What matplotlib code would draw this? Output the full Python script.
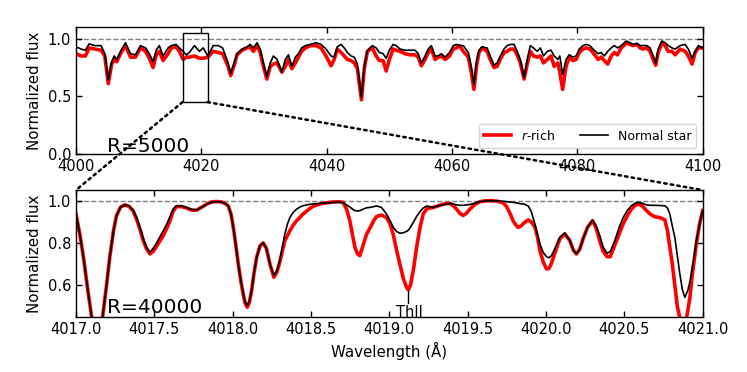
import matplotlib
matplotlib.use("Agg")
import matplotlib.pyplot as plt
from matplotlib.patches import Rectangle, ConnectionPatch

# ---------------- low resolution (R=5000) spectrum, 4000-4100 A ----------------
wl_lo = [4000.0, 4000.8, 4001.5, 4002.1, 4003.0, 4004.0, 4004.6, 4005.15, 4005.7, 4006.1,
         4006.5, 4007.2, 4007.9, 4008.7, 4009.5, 4010.3, 4011.1, 4011.7, 4012.3, 4012.8,
         4013.3, 4013.9, 4014.7, 4015.2, 4016.0, 4016.5, 4017.1, 4017.6, 4018.1, 4018.9,
         4019.7, 4020.3, 4021.05, 4021.9, 4022.7, 4023.4, 4024.2, 4024.7, 4025.3, 4025.7,
         4026.5, 4027.3, 4027.8, 4028.3, 4028.9, 4029.4, 4029.9, 4030.45, 4031.0, 4031.5,
         4032.1, 4032.85, 4033.4, 4033.9, 4034.45, 4035.0, 4035.5, 4036.0, 4036.6, 4037.4,
         4038.3, 4039.1, 4039.9, 4040.7, 4041.2, 4041.7, 4042.3, 4042.8, 4043.3, 4043.9,
         4044.4, 4044.9, 4045.55, 4046.0, 4046.5, 4047.3, 4047.9, 4048.4, 4049.0, 4049.5,
         4050.0, 4050.6, 4051.1, 4051.7, 4052.5, 4053.3, 4054.1, 4054.6, 4055.1, 4055.7,
         4056.2, 4056.7, 4057.3, 4057.8, 4058.3, 4058.9, 4059.6, 4060.2, 4060.7, 4061.2,
         4061.8, 4062.6, 4063.1, 4063.5, 4063.9, 4064.3, 4064.8, 4065.6, 4066.1, 4066.7,
         4067.2, 4067.7, 4068.3, 4068.8, 4069.3, 4069.9, 4070.4, 4070.9, 4071.5, 4072.0,
         4072.5, 4073.0, 4073.6, 4074.1, 4074.6, 4075.2, 4075.8, 4076.3, 4076.9, 4077.2,
         4077.65, 4078.2, 4078.7, 4079.3, 4079.8, 4080.3, 4080.9, 4081.4, 4082.0, 4082.5,
         4083.3, 4083.8, 4084.3, 4084.85, 4085.4, 4085.9, 4086.4, 4087.0, 4087.8, 4088.4,
         4088.9, 4089.5, 4090.0, 4090.5, 4091.1, 4091.6, 4092.1, 4092.5, 4092.9, 4093.5,
         4094.0, 4094.5, 4095.1, 4095.6, 4096.4, 4097.2, 4097.7, 4098.3, 4098.8, 4099.3,
         4100.0]
flux_lo_normal = [0.93, 0.91, 0.90, 0.955, 0.94, 0.94, 0.87, 0.64, 0.80, 0.85,
                  0.82, 0.90, 0.965, 0.87, 0.86, 0.94, 0.92, 0.87, 0.80, 0.90,
                  0.94, 0.85, 0.92, 0.94, 0.95, 0.92, 0.89, 0.86, 0.88, 0.94,
                  0.89, 0.92, 0.85, 0.94, 0.94, 0.92, 0.80, 0.70, 0.80, 0.87,
                  0.91, 0.93, 0.95, 0.92, 0.965, 0.91, 0.79, 0.67, 0.79, 0.85,
                  0.82, 0.71, 0.82, 0.86, 0.76, 0.84, 0.87, 0.92, 0.94, 0.95,
                  0.965, 0.95, 0.91, 0.85, 0.84, 0.93, 0.95, 0.92, 0.88, 0.85,
                  0.84, 0.78, 0.49, 0.76, 0.90, 0.94, 0.92, 0.88, 0.87, 0.83,
                  0.90, 0.95, 0.94, 0.91, 0.90, 0.90, 0.90, 0.87, 0.79, 0.85,
                  0.91, 0.94, 0.85, 0.85, 0.87, 0.84, 0.88, 0.94, 0.95, 0.94,
                  0.94, 0.88, 0.75, 0.60, 0.80, 0.90, 0.93, 0.92, 0.85, 0.77,
                  0.79, 0.85, 0.91, 0.94, 0.95, 0.95, 0.89, 0.82, 0.66, 0.82,
                  0.94, 0.92, 0.89, 0.92, 0.85, 0.89, 0.90, 0.85, 0.82, 0.85,
                  0.69, 0.82, 0.86, 0.84, 0.85, 0.91, 0.94, 0.95, 0.94, 0.91,
                  0.87, 0.88, 0.85, 0.89, 0.92, 0.94, 0.92, 0.94, 0.98, 0.965,
                  0.95, 0.96, 0.94, 0.94, 0.94, 0.92, 0.85, 0.79, 0.91, 0.98,
                  0.965, 0.94, 0.92, 0.91, 0.94, 0.95, 0.91, 0.83, 0.89, 0.94,
                  0.92]
flux_lo_rrich = [0.87, 0.85, 0.85, 0.92, 0.91, 0.90, 0.85, 0.61, 0.78, 0.82,
                 0.80, 0.88, 0.94, 0.84, 0.84, 0.92, 0.89, 0.83, 0.75, 0.86,
                 0.89, 0.81, 0.87, 0.92, 0.93, 0.89, 0.82, 0.84, 0.84, 0.85,
                 0.83, 0.83, 0.84, 0.89, 0.88, 0.87, 0.77, 0.68, 0.78, 0.86,
                 0.90, 0.92, 0.93, 0.89, 0.94, 0.88, 0.76, 0.65, 0.76, 0.78,
                 0.79, 0.71, 0.76, 0.82, 0.74, 0.79, 0.84, 0.89, 0.92, 0.94,
                 0.94, 0.92, 0.85, 0.765, 0.82, 0.91, 0.88, 0.85, 0.82, 0.81,
                 0.79, 0.74, 0.47, 0.74, 0.89, 0.92, 0.85, 0.81, 0.81, 0.72,
                 0.82, 0.91, 0.90, 0.89, 0.87, 0.86, 0.86, 0.84, 0.765, 0.82,
                 0.88, 0.91, 0.82, 0.84, 0.85, 0.82, 0.85, 0.91, 0.92, 0.94,
                 0.89, 0.84, 0.70, 0.56, 0.76, 0.88, 0.92, 0.89, 0.82, 0.75,
                 0.76, 0.82, 0.88, 0.89, 0.91, 0.91, 0.86, 0.79, 0.65, 0.78,
                 0.89, 0.85, 0.84, 0.85, 0.79, 0.82, 0.85, 0.76, 0.79, 0.71,
                 0.56, 0.76, 0.84, 0.81, 0.82, 0.88, 0.91, 0.92, 0.91, 0.88,
                 0.82, 0.84, 0.81, 0.78, 0.85, 0.88, 0.86, 0.92, 0.96, 0.95,
                 0.94, 0.95, 0.92, 0.91, 0.92, 0.89, 0.82, 0.77, 0.88, 0.965,
                 0.94, 0.89, 0.89, 0.86, 0.91, 0.89, 0.85, 0.78, 0.88, 0.92,
                 0.92]

# ---------------- high resolution (R=40000) spectrum, 4017-4021 A ----------------
wl_hi = [4017.000, 4017.025, 4017.050, 4017.075, 4017.100, 4017.135, 4017.170, 4017.195, 4017.217, 4017.240,
         4017.259, 4017.285, 4017.313, 4017.340, 4017.366, 4017.390, 4017.408, 4017.430, 4017.451, 4017.472,
         4017.493, 4017.515, 4017.536, 4017.557, 4017.580, 4017.600, 4017.620, 4017.642, 4017.675, 4017.706,
         4017.740, 4017.770, 4017.800, 4017.834, 4017.865, 4017.897, 4017.930, 4017.955, 4017.972, 4017.990,
         4018.004, 4018.020, 4018.036, 4018.052, 4018.068, 4018.080, 4018.093, 4018.107, 4018.121, 4018.137,
         4018.153, 4018.175, 4018.195, 4018.215, 4018.238, 4018.263, 4018.282, 4018.301, 4018.317, 4018.333,
         4018.350, 4018.365, 4018.387, 4018.408, 4018.430, 4018.450, 4018.480, 4018.503, 4018.530, 4018.557,
         4018.600, 4018.642, 4018.675, 4018.705, 4018.727, 4018.748, 4018.765, 4018.780, 4018.796, 4018.812,
         4018.833, 4018.854, 4018.876, 4018.900, 4018.919, 4018.950, 4018.982, 4019.005, 4019.025, 4019.045,
         4019.067, 4019.090, 4019.110, 4019.121, 4019.135, 4019.155, 4019.174, 4019.195, 4019.216, 4019.240,
         4019.280, 4019.310, 4019.344, 4019.386, 4019.410, 4019.429, 4019.450, 4019.471, 4019.492, 4019.514,
         4019.545, 4019.578, 4019.610, 4019.642, 4019.685, 4019.727, 4019.750, 4019.770, 4019.790, 4019.807,
         4019.822, 4019.840, 4019.860, 4019.886, 4019.905, 4019.929, 4019.945, 4019.961, 4019.982, 4020.003,
         4020.020, 4020.035, 4020.060, 4020.088, 4020.120, 4020.152, 4020.175, 4020.194, 4020.215, 4020.237,
         4020.265, 4020.297, 4020.320, 4020.343, 4020.365, 4020.390, 4020.410, 4020.439, 4020.465, 4020.492,
         4020.520, 4020.545, 4020.568, 4020.588, 4020.615, 4020.641, 4020.668, 4020.694, 4020.725, 4020.758,
         4020.775, 4020.790, 4020.806, 4020.822, 4020.838, 4020.854, 4020.870, 4020.886, 4020.905, 4020.918,
         4020.935, 4020.948, 4020.960, 4020.980, 4021.000]
flux_hi_normal = [0.937, 0.84, 0.72, 0.58, 0.45, 0.38, 0.45, 0.60, 0.74, 0.86,
                  0.93, 0.97, 0.98, 0.975, 0.955, 0.915, 0.874, 0.82, 0.78, 0.756,
                  0.775, 0.80, 0.83, 0.858, 0.89, 0.925, 0.96, 0.976, 0.975, 0.968,
                  0.958, 0.956, 0.968, 0.982, 0.992, 0.995, 0.994, 0.985, 0.975, 0.935,
                  0.874, 0.79, 0.70, 0.625, 0.56, 0.52, 0.504, 0.525, 0.575, 0.66,
                  0.732, 0.787, 0.80, 0.775, 0.70, 0.646, 0.67, 0.717, 0.78, 0.843,
                  0.89, 0.92, 0.945, 0.96, 0.97, 0.976, 0.981, 0.984, 0.986, 0.987,
                  0.99, 0.992, 0.993, 0.99, 0.98, 0.97, 0.96, 0.953, 0.951, 0.953,
                  0.96, 0.966, 0.968, 0.972, 0.975, 0.968, 0.937, 0.905, 0.874, 0.855,
                  0.846, 0.848, 0.855, 0.86, 0.875, 0.90, 0.925, 0.948, 0.965, 0.975,
                  0.968, 0.975, 0.98, 0.987, 0.984, 0.98, 0.978, 0.978, 0.98, 0.982,
                  0.988, 0.995, 0.998, 1.0, 0.999, 0.997, 0.995, 0.994, 0.992, 0.99,
                  0.988, 0.985, 0.984, 0.975, 0.95, 0.89, 0.84, 0.795, 0.755, 0.735,
                  0.73, 0.74, 0.78, 0.827, 0.847, 0.811, 0.765, 0.748, 0.77, 0.82,
                  0.874, 0.909, 0.88, 0.835, 0.78, 0.751, 0.76, 0.811, 0.87, 0.92,
                  0.955, 0.976, 0.988, 0.992, 0.988, 0.98, 0.978, 0.978, 0.977, 0.976,
                  0.965, 0.937, 0.88, 0.827, 0.74, 0.654, 0.58, 0.543, 0.575, 0.615,
                  0.69, 0.75, 0.811, 0.89, 0.953]
flux_hi_rrich = [0.937, 0.84, 0.72, 0.58, 0.45, 0.38, 0.45, 0.60, 0.74, 0.86,
                 0.93, 0.97, 0.98, 0.972, 0.95, 0.905, 0.865, 0.81, 0.77, 0.748,
                 0.76, 0.785, 0.81, 0.835, 0.87, 0.905, 0.95, 0.972, 0.972, 0.965,
                 0.955, 0.955, 0.968, 0.984, 0.994, 0.996, 0.994, 0.985, 0.975, 0.935,
                 0.874, 0.79, 0.70, 0.62, 0.555, 0.515, 0.496, 0.52, 0.575, 0.66,
                 0.732, 0.787, 0.80, 0.775, 0.70, 0.638, 0.66, 0.71, 0.76, 0.811,
                 0.835, 0.858, 0.885, 0.905, 0.922, 0.937, 0.955, 0.969, 0.978, 0.984,
                 0.99, 0.994, 0.995, 0.992, 0.96, 0.905, 0.84, 0.78, 0.75, 0.74,
                 0.79, 0.84, 0.87, 0.905, 0.925, 0.932, 0.92, 0.89, 0.84, 0.77,
                 0.70, 0.63, 0.59, 0.578, 0.60, 0.68, 0.78, 0.87, 0.937, 0.962,
                 0.968, 0.975, 0.984, 0.987, 0.975, 0.96, 0.94, 0.93, 0.94, 0.96,
                 0.982, 0.995, 0.999, 1.0, 0.998, 0.99, 0.97, 0.94, 0.905, 0.885,
                 0.874, 0.88, 0.895, 0.909, 0.90, 0.875, 0.83, 0.764, 0.71, 0.677,
                 0.68, 0.705, 0.76, 0.819, 0.843, 0.811, 0.765, 0.748, 0.77, 0.82,
                 0.874, 0.905, 0.87, 0.81, 0.76, 0.735, 0.735, 0.79, 0.84, 0.89,
                 0.93, 0.96, 0.978, 0.984, 0.975, 0.953, 0.935, 0.924, 0.92, 0.91,
                 0.858, 0.78, 0.70, 0.60, 0.50, 0.445, 0.41, 0.40, 0.48, 0.54,
                 0.66, 0.73, 0.80, 0.89, 0.953]

lo_xticks = [4000, 4020, 4040, 4060, 4080, 4100]
lo_yticks = [0.0, 0.5, 1.0]
hi_xticks = [4017.0, 4017.5, 4018.0, 4018.5, 4019.0, 4019.5, 4020.0, 4020.5, 4021.0]
hi_yticks = [0.6, 0.8, 1.0]
zoom_box = (4017.0, 4021.0, 0.45, 1.05)
thii_wl = 4019.12
thii_flux = 0.575

plt.rcParams['font.family'] = ['DejaVu Sans']
plt.rcParams['font.size'] = 10.5

fig = plt.figure(figsize=(7.47, 3.72), dpi=100)
ax1 = fig.add_axes([0.1017, 0.586, 0.839, 0.341])
ax2 = fig.add_axes([0.1017, 0.148, 0.839, 0.341])

for ax in (ax1, ax2):
    ax.tick_params(direction='in', top=True, right=True, labelsize=10.5, length=4.5, width=1)
    for s in ax.spines.values():
        s.set_linewidth(1.0)

# top panel
ax1.axhline(1.0, color='0.5', ls='--', lw=1.0, zorder=1)
ax1.plot(wl_lo, flux_lo_rrich, color='red', lw=2.6, label=r'$r$-rich', zorder=2)
ax1.plot(wl_lo, flux_lo_normal, color='black', lw=1.2, label='Normal star', zorder=3)
ax1.set_xlim(4000, 4100)
ax1.set_ylim(0.0, 1.1)
ax1.set_xticks(lo_xticks)
ax1.set_yticks(lo_yticks)
ax1.set_ylabel('Normalized flux', fontsize=10.8)
ax1.text(0.049, 0.018, 'R=5000', transform=ax1.transAxes, fontsize=14.5, va='baseline', ha='left')
ax1.legend(loc='lower right', ncol=2, fontsize=9, handlelength=2.2, columnspacing=2.0)
x0, x1, y0, y1 = zoom_box
ax1.add_patch(Rectangle((x0, y0), x1 - x0, y1 - y0, fill=False, ec='black', lw=1.0, zorder=4))

# bottom panel
ax2.axhline(1.0, color='0.5', ls='--', lw=1.0, zorder=1)
ax2.plot(wl_hi, flux_hi_rrich, color='red', lw=2.6, zorder=2)
ax2.plot(wl_hi, flux_hi_normal, color='black', lw=1.2, zorder=3)
ax2.set_xlim(x0, x1)
ax2.set_ylim(y0, y1)
ax2.set_xticks(hi_xticks)
ax2.set_yticks(hi_yticks)
ax2.set_xlabel('Wavelength (Å)', fontsize=10.8)
ax2.set_ylabel('Normalized flux', fontsize=10.8)
ax2.text(0.049, 0.03, 'R=40000', transform=ax2.transAxes, fontsize=14.5, va='baseline', ha='left')
ax2.plot([thii_wl, thii_wl], [thii_flux, thii_flux - 0.06], color='black', lw=1.0, zorder=4)
ax2.text(thii_wl + 0.01, thii_flux - 0.07, 'ThII', ha='center', va='top', fontsize=10.5)

# connecting dotted lines
for xa in (x0, x1):
    con = ConnectionPatch(xyA=(xa, y0), coordsA=ax1.transData,
                          xyB=(xa, y1), coordsB=ax2.transData,
                          color='black', ls=':', lw=1.8)
    fig.add_artist(con)

fig.savefig('out.png', dpi=100)
